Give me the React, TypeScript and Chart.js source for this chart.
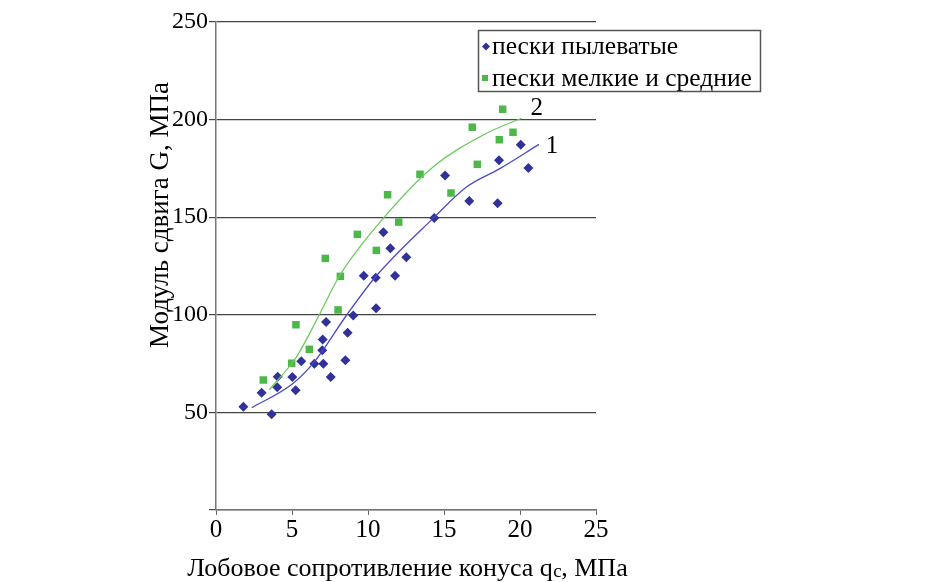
import React, { useEffect, useRef } from 'react';
import { Chart, registerables } from 'chart.js';
Chart.register(...registerables);

// Series 1: пески пылеватые (blue diamonds)
const siltyX = [1.8, 3.0, 3.66, 4.06, 4.03, 5.02, 5.24, 5.61, 6.47, 7.06, 6.99, 7.02, 7.24, 7.55, 8.51, 8.66, 9.03, 9.72, 10.51, 10.53, 11.01, 11.47, 11.78, 12.52, 14.36, 15.07, 16.66, 18.53, 18.62, 20.05, 20.55];
const siltyY = [52.9, 60.1, 49.0, 68.3, 62.9, 68.1, 61.3, 76.2, 74.9, 74.9, 81.8, 87.4, 96.3, 68.1, 76.7, 90.8, 99.7, 120.0, 119.0, 103.3, 142.3, 134.1, 120.0, 129.5, 149.6, 171.3, 158.3, 157.2, 179.2, 187.1, 175.2];

// Series 2: пески мелкие и средние (green squares)
const fineX = [3.11, 4.98, 5.26, 6.14, 7.19, 8.18, 8.03, 9.30, 10.55, 12.02, 11.29, 13.42, 15.46, 17.19, 16.86, 18.64, 18.86, 19.54];
const fineY = [66.6, 75.2, 94.9, 82.3, 128.9, 119.7, 102.5, 141.2, 133.0, 147.5, 161.5, 172.0, 162.4, 177.1, 196.1, 189.7, 205.3, 193.5];

// Trend curves
const trend1X = [2.35, 5.0, 6.4, 8.6, 10.5, 14.4, 16.5, 18.7, 21.25];
const trend1Y = [52.4, 64.4, 75.2, 99.9, 119.5, 150.3, 165.6, 175.0, 187.3];
const trend2X = [3.5, 5.3, 6.73, 8.16, 11.1, 14.3, 17.8, 20.1];
const trend2Y = [61.5, 78.5, 99.0, 120.4, 150.3, 175.9, 193.0, 200.7];

const xTicks = [0, 5, 10, 15, 20, 25];
const yTicks = [0, 50, 100, 150, 200, 250];
const seriesNames = ['пески пылеватые', 'пески мелкие и средние'];
const curveLabels = [
  { text: '1', x: 22.1, y: 186 },
  { text: '2', x: 21.1, y: 205.8 },
];
const yTitle = 'Модуль сдвига G, МПа';
const xTitleParts = ['Лобовое сопротивление конуса q', 'c', ', МПа'];

const BLUE = '#31319a';
const GREEN = '#4cb848';
const BLUE_LINE = '#4a4ac4';
const GREEN_LINE = '#6acb5c';
const FONT = '"Liberation Serif", "Times New Roman", serif';

const zip = (xs: number[], ys: number[]) => xs.map((x, i) => ({ x, y: ys[i] }));

const decorPlugin = {
  id: 'decor',
  afterDraw(chart: any) {
    const ctx = chart.ctx as CanvasRenderingContext2D;
    const xs = chart.scales.x;
    const ys = chart.scales.y;
    ctx.save();
    // curve labels
    ctx.fillStyle = '#000';
    ctx.font = `25px ${FONT}`;
    ctx.textAlign = 'center';
    ctx.textBaseline = 'middle';
    curveLabels.forEach((l) => {
      ctx.fillText(l.text, xs.getPixelForValue(l.x), ys.getPixelForValue(l.y));
    });

    // legend
    const bx = 478.5, by = 30.5, bw = 282, bh = 61;
    ctx.fillStyle = '#fff';
    ctx.fillRect(bx, by, bw, bh);
    ctx.strokeStyle = '#555';
    ctx.lineWidth = 1.5;
    ctx.strokeRect(bx, by, bw, bh);
    ctx.font = `25.5px ${FONT}`;
    ctx.textAlign = 'left';
    const r1 = by + 16, r2 = by + 47.5;
    ctx.fillStyle = BLUE;
    ctx.beginPath();
    ctx.moveTo(486, r1 - 4);
    ctx.lineTo(490, r1);
    ctx.lineTo(486, r1 + 4);
    ctx.lineTo(482, r1);
    ctx.closePath();
    ctx.fill();
    ctx.fillStyle = '#000';
    ctx.fillText(seriesNames[0], 492, r1 + 1);
    ctx.fillStyle = GREEN;
    ctx.fillRect(482, r2 - 3, 6, 6);
    ctx.fillStyle = '#000';
    ctx.fillText(seriesNames[1], 492, r2 + 1);

    // y title
    ctx.save();
    ctx.translate(168, 215);
    ctx.rotate(-Math.PI / 2);
    ctx.font = `27px ${FONT}`;
    ctx.textAlign = 'center';
    ctx.textBaseline = 'alphabetic';
    ctx.fillText(yTitle, 0, 0);
    ctx.restore();

    // x title with small "c"
    const big = `26px ${FONT}`;
    const small = `19px ${FONT}`;
    ctx.textBaseline = 'alphabetic';
    ctx.textAlign = 'left';
    ctx.font = big;
    const w0 = ctx.measureText(xTitleParts[0]).width;
    const w2 = ctx.measureText(xTitleParts[2]).width;
    ctx.font = small;
    const w1 = ctx.measureText(xTitleParts[1]).width;
    const total = w0 + w1 + w2;
    let cx = 407.5 - total / 2;
    const base = 576;
    ctx.font = big;
    ctx.fillText(xTitleParts[0], cx, base);
    cx += w0;
    ctx.font = small;
    ctx.fillText(xTitleParts[1], cx + 0.5, base + 1);
    cx += w1;
    ctx.font = big;
    ctx.fillText(xTitleParts[2], cx, base);
    ctx.restore();
  },
};

export default function App() {
  const ref = useRef<HTMLCanvasElement | null>(null);
  useEffect(() => {
    if (!ref.current) return;
    const chart = new Chart(ref.current, {
      type: 'scatter',
      data: {
        datasets: [
          {
            type: 'line',
            label: 'trend1',
            data: zip(trend1X, trend1Y),
            borderColor: BLUE_LINE,
            borderWidth: 1.3,
            pointRadius: 0,
            cubicInterpolationMode: 'monotone',
            fill: false,
          } as any,
          {
            type: 'line',
            label: 'trend2',
            data: zip(trend2X, trend2Y),
            borderColor: GREEN_LINE,
            borderWidth: 1.3,
            pointRadius: 0,
            cubicInterpolationMode: 'monotone',
            fill: false,
          } as any,
          {
            label: seriesNames[1],
            data: zip(fineX, fineY),
            pointStyle: 'rect',
            pointRadius: 5.3,
            backgroundColor: GREEN,
            borderColor: GREEN,
            borderWidth: 0,
          },
          {
            label: seriesNames[0],
            data: zip(siltyX, siltyY),
            pointStyle: 'rectRot',
            pointRadius: 5,
            backgroundColor: BLUE,
            borderColor: BLUE,
            borderWidth: 0,
          },
        ],
      },
      options: {
        animation: false,
        responsive: false,
        layout: { padding: { top: 22, right: 338, left: 0, bottom: 0 } },
        plugins: { legend: { display: false }, tooltip: { enabled: false } },
        scales: {
          x: {
            type: 'linear',
            min: 0,
            max: 25,
            afterFit: (s: any) => { s.height = 72; },
            afterBuildTicks: (s: any) => { s.ticks = xTicks.map((v) => ({ value: v })); },
            ticks: { color: '#000', font: { family: FONT, size: 25 }, padding: 0 },
            grid: { drawOnChartArea: false, drawTicks: true, tickLength: 5, tickColor: '#666' },
            border: { color: '#777', width: 1.5 },
            title: { display: false },
          },
          y: {
            type: 'linear',
            min: 0,
            max: 250,
            afterFit: (s: any) => { s.width = 216; },
            afterBuildTicks: (s: any) => { s.ticks = yTicks.map((v) => ({ value: v })); },
            ticks: {
              color: '#000',
              font: { family: FONT, size: 24 },
              padding: 1,
              callback: (v: any) => (v === 0 ? '' : String(v)),
            },
            grid: { color: '#444', lineWidth: 1.2, tickLength: 7, tickColor: '#444' },
            border: { color: '#777', width: 1.5 },
            title: { display: false },
          },
        },
      },
      plugins: [decorPlugin],
    });
    return () => chart.destroy();
  }, []);
  return (
    <div style={{ position: 'fixed', left: 0, top: 0, width: 934, height: 582, background: '#fff' }}>
      <canvas ref={ref} width={934} height={582} style={{ width: 934, height: 582 }} />
    </div>
  );
}
